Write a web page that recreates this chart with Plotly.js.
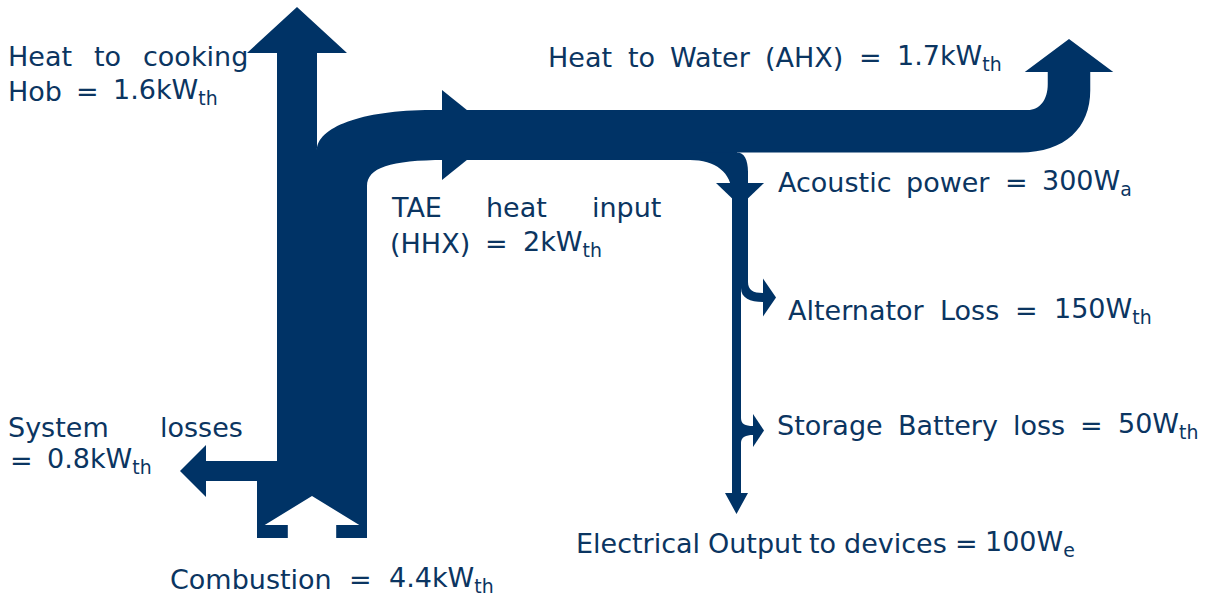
<!DOCTYPE html>
<html>
<head>
<meta charset="utf-8">
<script src="https://cdn.plot.ly/plotly-3.0.1.min.js"></script>
<style>html,body{margin:0;padding:0;background:#fff;}#chart{width:1205px;height:596px;}</style>
</head>
<body>
<div id="chart"></div>
<script>
// ---- data ----
const flowNames = ['Combustion', 'Heat to cooking Hob', 'TAE heat input (HHX)', 'System losses',
  'Heat to Water (AHX)', 'Acoustic power', 'Alternator Loss', 'Storage Battery loss', 'Electrical Output to devices'];
const flowValuesW = [4400, 1600, 2000, 800, 1700, 300, 150, 50, 100];
const flowUnitSub = ['th', 'th', 'th', 'th', 'th', 'a', 'th', 'th', 'e'];

const FILL = '#003366';
const TXT = '#0b3561';
const FONT = 'DejaVu Sans';
const FS = 27;

const v = {};
flowNames.forEach((n, i) => v[n] = flowValuesW[i] / 1000);
function fmt(i) {
  const w = flowValuesW[i];
  const s = w >= 500 ? (w / 1000) + 'kW' : w + 'W';
  return s + '<sub>' + flowUnitSub[i] + '</sub>';
}

// widths from values: thermal flows and (magnified) acoustic chain
const kTh = 25;            // px per kW
const kAc = 16 / 0.3;      // px per kW for acoustic/electric chain
const minW = 9;
const wT = x => kTh * x;
const wA = x => Math.max(minW, kAc * x);

const wComb = wT(v['Combustion']), wLoss = wT(v['System losses']);
const wCook = wT(v['Heat to cooking Hob']), wTAE = wT(v['TAE heat input (HHX)']);
const wWater = wT(v['Heat to Water (AHX)']);
const wAc = wA(v['Acoustic power']);
const wAlt = wA(v['Alternator Loss']);
const wStor = wA(v['Storage Battery loss']);
const wRest1 = wA(v['Acoustic power'] - v['Alternator Loss']);
const wElec = wA(v['Electrical Output to devices']);

// layout anchors
const cx = 312, yBot = 538;
const x0 = cx - wComb / 2, x1 = cx + wComb / 2;
const xL = x0 + wLoss, xC = xL + wCook;
const P = (x, y) => x.toFixed(2) + ',' + y.toFixed(2);
const shapes = [];
function add(path) { shapes.push({type: 'path', xref: 'x', yref: 'y', path: path, fillcolor: FILL, line: {width: 0}, layer: 'above'}); }

// trunk: combustion block, losses, cooking and TAE corner
const yLb = 481, yLt = yLb - wLoss, yLc = (yLb + yLt) / 2;
const oh = 0.43 * wComb, sh = 0.22 * wComb;
const cookC = xL + wCook / 2;
const yT = 110, yB = yT + wTAE;
add('M' + P(x0, yBot) + ' L' + P(cx - sh, yBot) + ' L' + P(cx - sh, yBot - 13) + ' L' + P(cx - oh, yBot - 13) +
  ' L' + P(cx, yBot - 42) + ' L' + P(cx + oh, yBot - 13) + ' L' + P(cx + sh, yBot - 13) + ' L' + P(cx + sh, yBot) +
  ' L' + P(x1, yBot) + ' L' + P(x1, yB + 26) + ' C' + P(x1, yB + 8) + ' ' + P(x1 + 23, yB) + ' ' + P(x1 + 78, yB) +
  ' L' + P(x1 + 78, yT) + ' L' + P(xC + 115, yT) + ' C' + P(xC + 43, yT) + ' ' + P(xC, yT + 18) + ' ' + P(xC, yT + 40) +
  ' L' + P(xC, 53) + ' L' + P(cookC + 50, 53) + ' L' + P(cookC, 7) + ' L' + P(cookC - 50, 53) + ' L' + P(xL, 53) +
  ' L' + P(xL, yLt) + ' L' + P(206, yLt) + ' L' + P(206, yLc - 26) + ' L' + P(180, yLc) + ' L' + P(206, yLc + 26) +
  ' L' + P(206, yLb) + ' L' + P(x0, yLb) + ' Z');

// TAE arrow head overlay
const yTc = yT + wTAE / 2;
add('M' + P(442, yTc - wTAE / 2 - 20) + ' L' + P(498, yTc) + ' L' + P(442, yTc + wTAE / 2 + 20) + ' Z');

// band to water with up-turn
const xA = 732;
const cxW = 1069, xWl = cxW - wWater / 2, xWr = cxW + wWater / 2, yWb = yT + wWater;
const hhW = wWater / 2 + 23;
add('M' + P(430, yT) + ' L' + P(xWl - 20, yT) + ' C' + P(xWl - 8, yT) + ' ' + P(xWl, yT - 10) + ' ' + P(xWl, yT - 26) +
  ' L' + P(xWl, 72) + ' L' + P(cxW - hhW, 72) + ' L' + P(cxW, 39) + ' L' + P(cxW + hhW, 72) + ' L' + P(xWr, 72) +
  ' L' + P(xWr, yWb - 62) + ' C' + P(xWr, yWb - 25) + ' ' + P(xWr - 25, yWb) + ' ' + P(xWr - 70, yWb) +
  ' L' + P(xA + 5, yWb) + ' L' + P(xA + 5, yB) + ' L' + P(430, yB) + ' Z');

// acoustic branch + stem to electrical output
const cxE = xA + wElec / 2;
const yAlt = 280, yEnd = 493;
add('M' + P(xA - 42, yB) + ' C' + P(xA - 17, yB) + ' ' + P(xA, yB + 12) + ' ' + P(xA, yB + 35) +
  ' L' + P(xA, yEnd) + ' L' + P(cxE - 11.5, yEnd) + ' L' + P(cxE, 514) + ' L' + P(cxE + 11.5, yEnd) +
  ' L' + P(xA + wElec, yEnd) + ' L' + P(xA + wElec, 440) + ' L' + P(xA + wRest1, 420) + ' L' + P(xA + wRest1, yAlt) +
  ' L' + P(xA + wAc, yAlt) + ' L' + P(xA + wAc, yB + 12) + ' C' + P(xA + wAc, yWb + 7) + ' ' + P(xA + wAc - 4, yWb) + ' ' + P(xA + 5, yWb) +
  ' L' + P(xA - 42, yWb) + ' Z');
// acoustic head overlay
const cxAc = xA + wAc / 2;
add('M' + P(cxAc - 24, 183) + ' L' + P(cxAc + 24, 183) + ' L' + P(cxAc, 206) + ' Z');

// alternator loss arm
const xs = xA + wRest1;
const yAh = 293;
add('M' + P(xA + wAc, 263) + ' L' + P(xA + wAc, 282) + ' C' + P(xA + wAc, 290) + ' ' + P(xA + wAc + 5, yAh) + ' ' + P(763, yAh) +
  ' L' + P(763, yAh + wAlt) + ' C' + P(750, yAh + wAlt) + ' ' + P(xs, yAh + wAlt - 4) + ' ' + P(xs, yAh + wAlt - 14) + ' L' + P(xs, 263) + ' Z');
const yAc = yAh + wAlt / 2;
add('M' + P(763, yAc - 19) + ' L' + P(776, yAc) + ' L' + P(763, yAc + 19) + ' Z');

// storage battery loss arm
const xs2 = xA + wElec;
const ySh = 426;
add('M' + P(xs2 - 2, 414) + ' L' + P(xs2, 418) + ' C' + P(xs2, ySh - 2) + ' ' + P(xs2 + 4, ySh) + ' ' + P(753, ySh) +
  ' L' + P(753, ySh + wStor) + ' C' + P(746, ySh + wStor) + ' ' + P(xs2, ySh + wStor + 2) + ' ' + P(xs2, ySh + wStor + 8) + ' L' + P(xs2 - 2, ySh + wStor + 8) + ' Z');
const ySc = ySh + wStor / 2;
add('M' + P(753, ySc - 16.5) + ' L' + P(764, ySc) + ' L' + P(753, ySc + 16.5) + ' Z');

// ---- labels (justified between left and right extents, as in the original text boxes) ----
const ctx = document.createElement('canvas').getContext('2d');
function measure(html) {
  let w = 0;
  const re = /<sub>(.*?)<\/sub>/g;
  let last = 0, m;
  while ((m = re.exec(html)) !== null) {
    ctx.font = FS + 'px "' + FONT + '"';
    w += ctx.measureText(html.slice(last, m.index)).width;
    ctx.font = (FS * 0.7) + 'px "' + FONT + '"';
    w += ctx.measureText(m[1]).width;
    last = re.lastIndex;
  }
  ctx.font = FS + 'px "' + FONT + '"';
  w += ctx.measureText(html.slice(last)).width;
  return w;
}
const ann = [];
function line(text, xLeft, xRight, yBase) {
  const words = text.split(' ');
  const widths = words.map(measure);
  const total = widths.reduce((a, b) => a + b, 0);
  const gap = words.length > 1 ? (xRight - xLeft - total) / (words.length - 1) : 0;
  let x = xLeft;
  words.forEach((wd, i) => {
    ann.push({text: wd, x: x, y: yBase - 10, xref: 'x', yref: 'y', xanchor: 'left', yanchor: 'middle',
      showarrow: false, font: {family: FONT, size: FS, color: TXT}, borderpad: 0, borderwidth: 0});
    x += widths[i] + gap;
  });
}
line('Heat to cooking', 8, 248, 66);
line('Hob = ' + fmt(1), 8, 218, 101);
line('Heat to Water (AHX) = ' + fmt(4), 548, 1002, 67);
line('Acoustic power = ' + fmt(5), 778, 1132, 192);
line('TAE heat input', 391, 661, 217);
line('(HHX) = ' + fmt(2), 390, 602, 253);
line('Alternator Loss = ' + fmt(6), 788, 1152, 320);
line('System losses', 8, 243, 437);
line('= ' + fmt(3), 10, 152, 470);
line('Storage Battery loss = ' + fmt(7), 777, 1198, 435);
line('Electrical Output to devices = ' + fmt(8), 576, 1075, 553);
line('Combustion = ' + fmt(0), 170, 494, 589);

const layout = {
  width: 1205, height: 596,
  margin: {l: 0, r: 0, t: 0, b: 0},
  paper_bgcolor: '#ffffff', plot_bgcolor: '#ffffff',
  xaxis: {range: [0, 1205], visible: false, fixedrange: true},
  yaxis: {range: [596, 0], visible: false, fixedrange: true},
  showlegend: false,
  shapes: shapes,
  annotations: ann
};
Plotly.newPlot('chart', [{x: [0], y: [0], mode: 'markers', marker: {opacity: 0}, hoverinfo: 'skip'}], layout,
  {displayModeBar: false, staticPlot: true});
</script>
</body>
</html>
